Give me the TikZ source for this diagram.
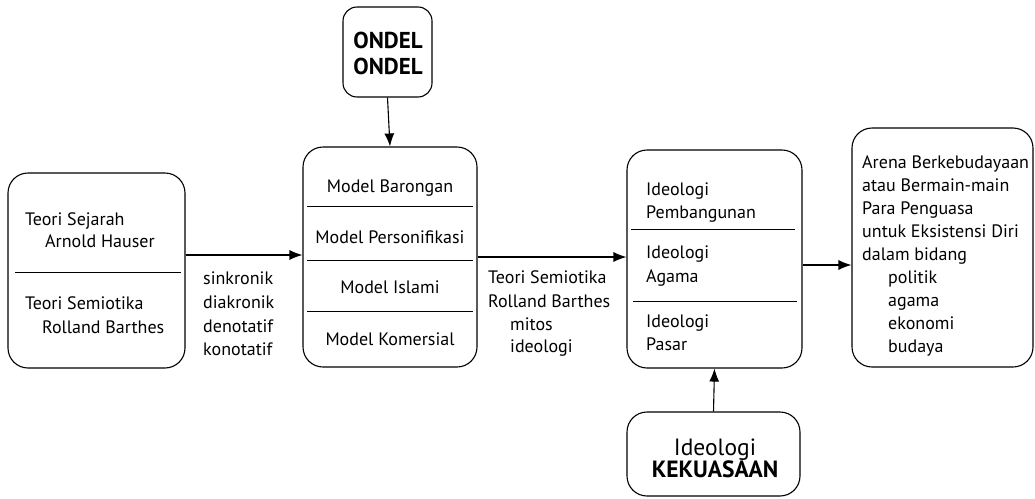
\documentclass[tikz,border=0pt]{standalone}
\usepackage{fontspec}
\setmainfont{PT Sans}
\usetikzlibrary{arrows.meta}
\tikzset{
  box/.style={draw, line width=1.1pt, rounded corners=20pt, inner sep=0pt},
  sbox/.style={draw, line width=1.1pt, rounded corners=14pt, inner sep=0pt},
  txt/.style={anchor=base west, inner sep=0pt, font=\fontsize{18}{21}\selectfont},
  ctxt/.style={anchor=base, inner sep=0pt, font=\fontsize{18}{21}\selectfont},
  divider/.style={line width=0.9pt},
  conn/.style={line width=1.1pt, -{Latex[length=13pt,width=10pt]}}
}
\begin{document}
\begin{tikzpicture}[x=1pt,y=-1pt]
\useasboundingbox (0,0) rectangle (1035,498);
% boxes
\node[box, minimum width=177pt, minimum height=195pt] (L) at (96.5,270.5) {};
\node[sbox, minimum width=89pt, minimum height=90pt] (O) at (387.5,52) {};
\node[box, minimum width=174pt, minimum height=220pt] (M) at (390,257) {};
\node[box, minimum width=175pt, minimum height=218pt] (I) at (714.5,259) {};
\node[box, minimum width=173pt, minimum height=84pt] (K) at (713.5,454) {};
\node[box, minimum width=181pt, minimum height=239pt] (R) at (942.5,247.5) {};
% dividers
\coordinate (l1a) at (15,272); \coordinate (l1b) at (181,272);
\draw[divider] (l1a) -- (l1b);
\coordinate (m1a) at (307,206); \coordinate (m1b) at (473,206);
\coordinate (m2a) at (307,260); \coordinate (m2b) at (473,260);
\coordinate (m3a) at (307,311); \coordinate (m3b) at (473,311);
\draw[divider] (m1a) -- (m1b); \draw[divider] (m2a) -- (m2b); \draw[divider] (m3a) -- (m3b);
\coordinate (i1a) at (631,229); \coordinate (i1b) at (795,229);
\coordinate (i2a) at (633,301); \coordinate (i2b) at (797,301);
\draw[divider] (i1a) -- (i1b); \draw[divider] (i2a) -- (i2b);
% left box text
\node[txt] (t1) at (25,225) {Teori Sejarah};
\node[txt] (t2) at (45,247) {Arnold Hauser};
\node[txt] (t3) at (25,309) {Teori Semiotika};
\node[txt] (t4) at (42,333) {Rolland Barthes};
% label 1
\node[txt] (s1) at (203,284) {sinkronik};
\node[txt] (s2) at (203,308) {diakronik};
\node[txt] (s3) at (203,332) {denotatif};
\node[txt] (s4) at (203,355) {konotatif};
% ondel
\node[anchor=base, inner sep=0pt, font=\fontsize{23}{26}\selectfont\bfseries] (o1) at (388,48) {ONDEL};
\node[anchor=base, inner sep=0pt, font=\fontsize{23}{26}\selectfont\bfseries] (o2) at (388,74) {ONDEL};
% middle text
\node[ctxt] (m1) at (390,192) {Model Barongan};
\node[ctxt] (m2) at (390,243) {Model Personifikasi};
\node[ctxt] (m3) at (390,293) {Model Islami};
\node[ctxt] (m4) at (390,345) {Model Komersial};
% label 2
\node[txt] (b1) at (488,283) {Teori Semiotika};
\node[txt] (b2) at (488,307) {Rolland Barthes};
\node[txt] (b3) at (510,330) {mitos};
\node[txt] (b4) at (510,352) {ideologi};
% ideology text
\node[txt] (i1) at (646,195) {Ideologi};
\node[txt] (i2) at (646,218) {Pembangunan};
\node[txt] (i3) at (646,258) {Ideologi};
\node[txt] (i4) at (646,282) {Agama};
\node[txt] (i5) at (646,327) {Ideologi};
\node[txt] (i6) at (646,350) {Pasar};
% kekuasaan
\node[anchor=base, inner sep=0pt, font=\fontsize{23.5}{26}\selectfont] (k1) at (715,455) {Ideologi};
\node[anchor=base, inner sep=0pt, font=\fontsize{23.5}{26}\selectfont\bfseries] (k2) at (715,477) {KEKUASAAN};
% right text
\node[txt] (r1) at (862,168) {Arena Berkebudayaan};
\node[txt] (r2) at (862,191) {atau Bermain-main};
\node[txt] (r3) at (862,214) {Para Penguasa};
\node[txt] (r4) at (862,237) {untuk Eksistensi Diri};
\node[txt] (r5) at (862,260) {dalam bidang};
\node[txt] (r6) at (888,283) {politik};
\node[txt] (r7) at (888,306) {agama};
\node[txt] (r8) at (888,329) {ekonomi};
\node[txt] (r9) at (888,352) {budaya};
% connectors
\draw[conn] (L.east |- 0,255) -- (M.west |- 0,255);
\draw[conn] (O.south) -- (M.north);
\draw[conn] (M.east |- 0,257) -- (I.west |- 0,257);
\draw[conn] (K.north) -- (I.south);
\draw[conn] (I.east |- 0,265) -- (R.west |- 0,265);
\end{tikzpicture}
\end{document}
